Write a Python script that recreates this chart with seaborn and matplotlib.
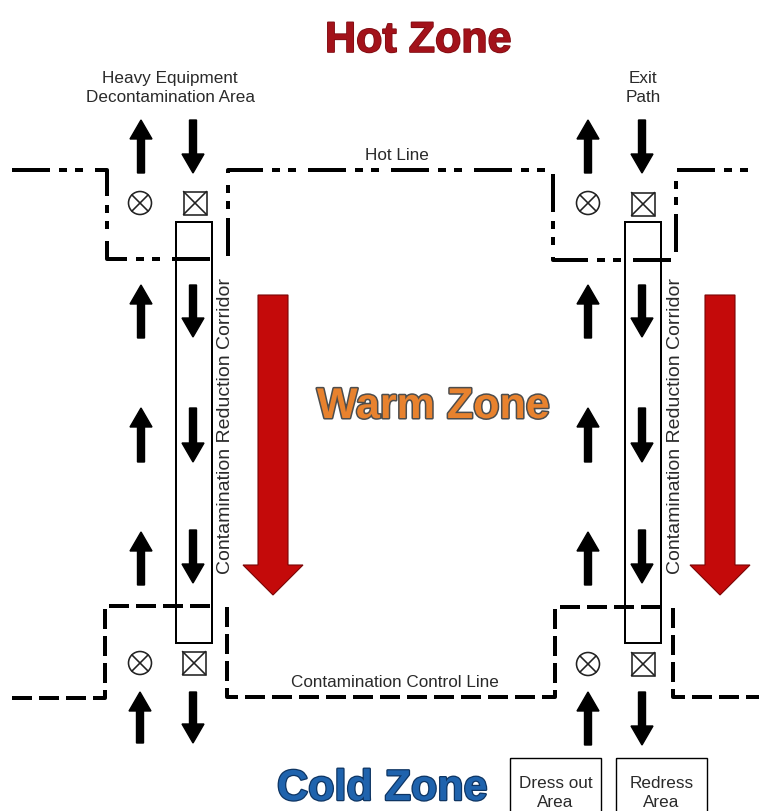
import matplotlib
matplotlib.use("Agg")
import matplotlib.pyplot as plt
import matplotlib.patheffects as pe
from matplotlib.patches import Circle, Rectangle
import seaborn as sns
import pandas as pd

# ---------------- data (pixel layout of the zone diagram) ----------------
zone_titles = ["Hot Zone", "Warm Zone", "Cold Zone"]
zone_x = [418, 433, 382]
zone_y = [52, 418, 800]
zone_colors = ["#a3121a", "#e8822e", "#1f63ad"]
zone_edges = ["#7e0c12", "#4d4d4d", "#0e3563"]
zone_stroke = [1.2, 2.2, 1.8]

hot_line_x = [[12, 107, 107, 219], [228, 228, 553, 553, 671], [676, 676, 759]]
hot_line_y = [[170, 170, 259, 259], [256, 170, 170, 260, 260], [252, 170, 170]]

control_line_x = [[12, 105, 105, 216], [227, 227, 555, 555, 667], [673, 673, 759]]
control_line_y = [[698, 698, 606, 606], [607, 697, 697, 607, 607], [608, 697, 697]]

corridor_left = [176, 625]
corridor_right = [212, 661]
corridor_top = 222
corridor_bottom = 643
corridor_label_x = [225, 676]
corridor_label_y = 426

circle_x = [140, 588, 140, 588]
circle_y = [203, 203, 663, 664]
square_x = [195, 643, 194, 643]
square_y = [203, 204, 663, 664]

up_arrow_x = [141, 588, 141, 141, 141, 588, 588, 588, 140, 588]
up_arrow_y0 = [173, 173, 338, 462, 585, 338, 462, 585, 743, 745]
up_arrow_y1 = [120, 120, 285, 408, 532, 285, 408, 532, 692, 692]
down_arrow_x = [193, 642, 193, 193, 193, 642, 642, 642, 193, 642]
down_arrow_y0 = [120, 120, 285, 408, 530, 285, 408, 530, 692, 692]
down_arrow_y1 = [173, 173, 337, 462, 583, 337, 462, 583, 743, 745]

big_arrow_x = [273, 720]
big_arrow_top = 295
big_arrow_tip = 595

labels = ["Heavy Equipment\nDecontamination Area", "Exit\nPath", "Hot Line",
          "Contamination Control Line"]
label_x = [170, 643, 397, 395]
label_y = [102, 102, 160, 687]

area_labels = ["Dress out\nArea", "Redress\nArea"]
area_box_left = [510, 616]
area_box_right = [601, 707]
area_box_top = 758

# ---------------- figure ----------------
sns.set_theme(style="white")
plt.rcParams["font.family"] = ["Liberation Sans", "DejaVu Sans"]
plt.rcParams["lines.scale_dashes"] = False

fig = plt.figure(figsize=(7.59, 8.11), dpi=100)
ax = fig.add_axes([0, 0, 1, 1])
ax.set_xlim(0, 759)
ax.set_ylim(811, 0)
ax.set_axis_off()

PT = 0.72  # points per pixel

# hot line (dash-dot-dot)
for xs, ys in zip(hot_line_x, hot_line_y):
    df = pd.DataFrame({"x": xs, "y": ys})
    sns.lineplot(data=df, x="x", y="y", sort=False, estimator=None, ax=ax,
                 color="black", linewidth=4 * PT)
    ln = ax.lines[-1]
    ln.set_dashes((38 * PT, 9 * PT, 8 * PT, 8 * PT, 8 * PT, 12 * PT))
    ln.set_dash_capstyle("butt")

# contamination control line (dashed)
for xs, ys in zip(control_line_x, control_line_y):
    df = pd.DataFrame({"x": xs, "y": ys})
    sns.lineplot(data=df, x="x", y="y", sort=False, estimator=None, ax=ax,
                 color="black", linewidth=4 * PT)
    ln = ax.lines[-1]
    ln.set_dashes((20 * PT, 7 * PT))
    ln.set_dash_capstyle("butt")

# corridors
for l, r, lx in zip(corridor_left, corridor_right, corridor_label_x):
    ax.add_patch(Rectangle((l, corridor_top), r - l, corridor_bottom - corridor_top,
                           fill=False, edgecolor="black", linewidth=2 * PT, zorder=3))
    ax.text(lx, corridor_label_y, "Contamination Reduction Corridor", rotation=90,
            ha="center", va="center", fontsize=14, color="#2a2a2a")

# symbols
for cx, cy in zip(circle_x, circle_y):
    r = 11.5
    ax.add_patch(Circle((cx, cy), r, fill=False, edgecolor="#222", linewidth=1.6 * PT))
    d = r * 0.7071
    ax.plot([cx - d, cx + d], [cy - d, cy + d], color="#222", lw=1.6 * PT)
    ax.plot([cx - d, cx + d], [cy + d, cy - d], color="#222", lw=1.6 * PT)
for sx, sy in zip(square_x, square_y):
    h = 11.5
    ax.add_patch(Rectangle((sx - h, sy - h), 2 * h, 2 * h, fill=False,
                           edgecolor="#222", linewidth=1.6 * PT))
    ax.plot([sx - h, sx + h], [sy - h, sy + h], color="#222", lw=1.6 * PT)
    ax.plot([sx - h, sx + h], [sy + h, sy - h], color="#222", lw=1.6 * PT)

# small black arrows
for x, y0, y1 in zip(up_arrow_x + down_arrow_x, up_arrow_y0 + down_arrow_y0,
                     up_arrow_y1 + down_arrow_y1):
    ax.arrow(x, y0, 0, y1 - y0, width=7, head_width=22, head_length=19,
             length_includes_head=True, color="black", zorder=4)

# big red arrows
for x in big_arrow_x:
    ax.arrow(x, big_arrow_top, 0, big_arrow_tip - big_arrow_top, width=30,
             head_width=60, head_length=30, length_includes_head=True,
             facecolor="#c40a0a", edgecolor="#7a0505", linewidth=0.8, zorder=4)

# zone titles
for t, x, y, c, e, s in zip(zone_titles, zone_x, zone_y, zone_colors, zone_edges,
                            zone_stroke):
    ax.text(x, y, t, ha="center", va="baseline", fontsize=31, fontweight="bold",
            color=c, path_effects=[pe.withStroke(linewidth=s, foreground=e)], zorder=5)

# labels
for t, x, y in zip(labels, label_x, label_y):
    ax.text(x, y, t, ha="center", va="baseline", fontsize=12.3, color="#2a2a2a",
            linespacing=1.3)

# area boxes
for l, r, t in zip(area_box_left, area_box_right, area_labels):
    ax.add_patch(Rectangle((l, area_box_top), r - l, 60, fill=False,
                           edgecolor="black", linewidth=1.4 * PT))
    ax.text((l + r) / 2, 807, t, ha="center", va="baseline", fontsize=12.3,
            color="#2a2a2a", linespacing=1.3)

fig.savefig("out.png", dpi=100)
